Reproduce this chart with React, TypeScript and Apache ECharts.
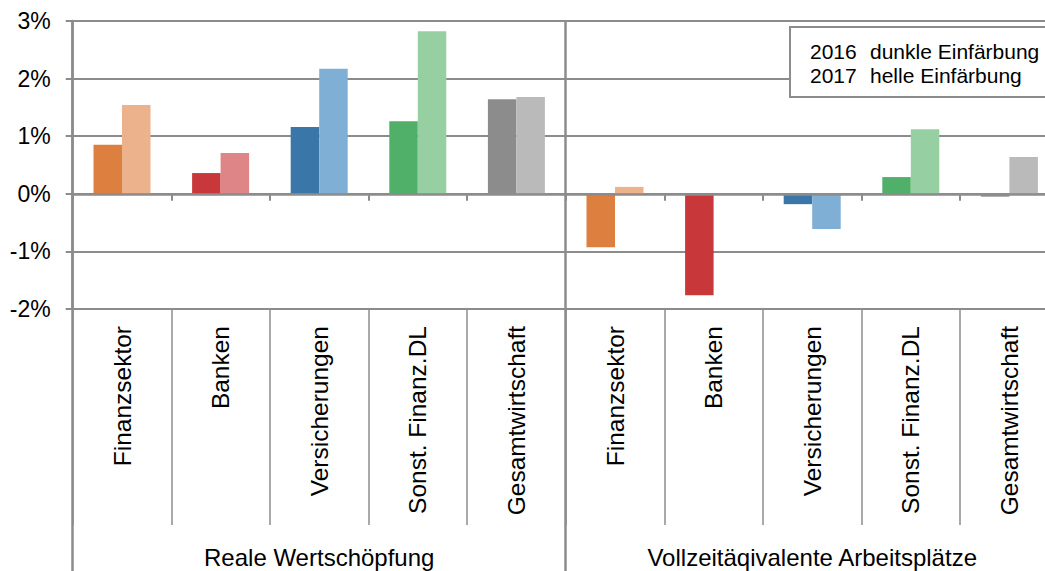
import React, { useEffect, useRef } from "react";
import * as echarts from "echarts";

const categories = [
  "Finanzsektor", "Banken", "Versicherungen", "Sonst. Finanz.DL", "Gesamtwirtschaft",
  "Finanzsektor", "Banken", "Versicherungen", "Sonst. Finanz.DL", "Gesamtwirtschaft",
];
const groups = ["Reale Wertschöpfung", "Vollzeitäqivalente Arbeitsplätze"];
const values2016 = [0.85, 0.36, 1.16, 1.26, 1.64, -0.93, -1.76, -0.18, 0.29, -0.05];
const values2017: (number | null)[] = [1.54, 0.71, 2.17, 2.82, 1.68, 0.12, null, -0.61, 1.12, 0.64];
const darkColors = ["#DD7F3E", "#C8383A", "#3A76A8", "#50AF69", "#8C8C8C"];
const lightColors = ["#ECB28B", "#DE8587", "#80AFD5", "#96D0A2", "#BABABA"];
const yTicks = { min: -2, max: 3, interval: 1 };
const legendLines = [
  ["2016", "dunkle Einfärbung"],
  ["2017", "helle Einfärbung"],
];

const GRAY = "#8C8C8C";
const FONT = "Liberation Sans";

export default function App() {
  const ref = useRef<HTMLDivElement>(null);
  useEffect(() => {
    if (!ref.current) return;
    const chart = echarts.init(ref.current, undefined, { renderer: "svg" });
    const option: any = {
      animation: false,
      backgroundColor: "#fff",
      grid: {
        left: 72.7,
        top: 21,
        width: 986,
        height: 288,
        containLabel: false,
        outerBoundsMode: "none",
      },
      xAxis: [
        {
          type: "category",
          data: categories,
          z: 3,
          axisLine: { onZero: true, lineStyle: { color: GRAY, width: 2.5 } },
          axisTick: { show: true, length: 7, interval: 0, lineStyle: { color: GRAY, width: 2 } },
          axisLabel: { show: false },
          splitLine: { show: false },
        },
        {
          type: "category",
          data: categories,
          position: "bottom",
          axisLine: { show: true, onZero: false, lineStyle: { color: GRAY, width: 2 } },
          axisTick: { show: true, length: 216, interval: 0, lineStyle: { color: GRAY, width: 1.5 } },
          axisLabel: {
            interval: 0,
            rotate: 90,
            margin: 17,
            fontSize: 24.5,
            fontFamily: FONT,
            color: "#000",
          },
          splitLine: { show: false },
        },
        {
          type: "category",
          data: groups,
          position: "bottom",
          axisLine: { show: false, onZero: false },
          axisTick: { show: true, length: 265, interval: 0, lineStyle: { color: GRAY, width: 2.5 } },
          axisLabel: {
            interval: 0,
            margin: 236,
            fontSize: 24,
            fontFamily: FONT,
            color: "#000",
          },
          splitLine: { show: true, interval: 0, lineStyle: { color: GRAY, width: 2.5 } },
        },
      ],
      yAxis: {
        type: "value",
        min: yTicks.min,
        max: yTicks.max,
        interval: yTicks.interval,
        axisLine: { show: true, lineStyle: { color: GRAY, width: 2.5 } },
        axisTick: { show: true, length: 7, lineStyle: { color: GRAY, width: 2 } },
        axisLabel: {
          formatter: "{value}%",
          margin: 22,
          fontSize: 23,
          fontFamily: FONT,
          color: "#000",
        },
        splitLine: { show: true, lineStyle: { color: GRAY, width: 2 } },
      },
      series: [
        {
          name: "2016",
          type: "bar",
          xAxisIndex: 0,
          barWidth: 28.5,
          barGap: "0%",
          data: values2016.map((v, i) => ({ value: v, itemStyle: { color: darkColors[i % 5] } })),
        },
        {
          name: "2017",
          type: "bar",
          xAxisIndex: 0,
          barWidth: 28.5,
          barGap: "0%",
          data: values2017.map((v, i) => ({ value: v, itemStyle: { color: lightColors[i % 5] } })),
        },
      ],
      graphic: [
        {
          type: "group",
          z: 100,
          children: [
            {
              type: "rect",
              shape: { x: 790, y: 27, width: 320, height: 70 },
              style: { fill: "#fff", stroke: GRAY, lineWidth: 2 },
              z: 100,
            },
            ...legendLines.flatMap((line, i) => [
              {
                type: "text",
                x: 810,
                y: 51.5 + i * 23.5,
                z: 101,
                style: {
                  text: line[0],
                  fontSize: 21,
                  fontFamily: FONT,
                  fill: "#000",
                  verticalAlign: "middle",
                },
              },
              {
                type: "text",
                x: 870,
                y: 51.5 + i * 23.5,
                z: 101,
                style: {
                  text: line[1],
                  fontSize: 21,
                  fontFamily: FONT,
                  fill: "#000",
                  verticalAlign: "middle",
                },
              },
            ]),
          ],
        },
      ],
    };
    chart.setOption(option);
    return () => chart.dispose();
  }, []);
  return (
    <div
      ref={ref}
      style={{ position: "fixed", left: 0, top: 0, width: 1045, height: 571 }}
    />
  );
}
